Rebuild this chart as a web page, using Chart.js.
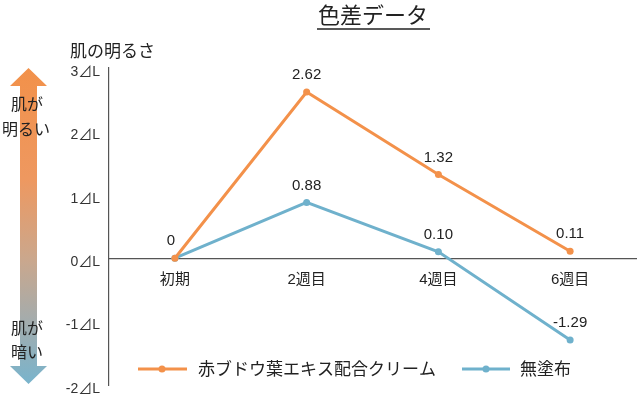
<!DOCTYPE html>
<html><head><meta charset="utf-8">
<script src="https://cdn.jsdelivr.net/npm/chart.js@4"></script>
<style>html,body{margin:0;padding:0;background:#fff}#wrap{width:640px;height:397px;position:relative}</style>
</head><body><div id="wrap"><canvas id="c" width="640" height="397"></canvas></div>
<script>
const categories = ['初期', '2週目', '4週目', '6週目'];
const creamValues = [0, 2.62, 1.32, 0.11];
const bareValues = [0, 0.88, 0.10, -1.29];
const seriesNames = ['赤ブドウ葉エキス配合クリーム', '無塗布'];
const yTicks = [-2, -1, 0, 1, 2, 3];
const titleText = '色差データ';
const yTitleText = '肌の明るさ';
const upperLabel = ['肌が', '明るい'];
const lowerLabel = ['肌が', '暗い'];

const ORANGE = '#F3914A';
const BLUE = '#6FB1CC';
const FONT = '"Noto Sans CJK JP", "Noto Sans", sans-serif';
const NUMFONT = '"Liberation Sans", "Noto Sans CJK JP", sans-serif';

const decor = {
  id: 'decor',
  afterDraw(chart) {
    const ctx = chart.ctx;
    const y = chart.scales.y;
    ctx.save();
    // title
    ctx.fillStyle = '#222';
    ctx.font = '22px ' + FONT;
    ctx.textAlign = 'center';
    ctx.textBaseline = 'middle';
    ctx.fillText(titleText, 373, 15);
    ctx.strokeStyle = '#222';
    ctx.lineWidth = 1.5;
    ctx.beginPath(); ctx.moveTo(317, 29); ctx.lineTo(430, 29); ctx.stroke();
    // y title
    ctx.font = '17px ' + FONT;
    ctx.textAlign = 'left';
    ctx.fillText(yTitleText, 70, 51);
    // arrow
    const top = y.getPixelForValue(3), bot = y.getPixelForValue(-2);
    const g = ctx.createLinearGradient(0, top, 0, bot);
    g.addColorStop(0, '#F2914A');
    g.addColorStop(0.35, '#EE9860');
    g.addColorStop(0.6, '#CBA78C');
    g.addColorStop(0.8, '#A3ACAD');
    g.addColorStop(1, '#78B4CD');
    ctx.fillStyle = g;
    ctx.beginPath();
    ctx.moveTo(28.5, top);
    ctx.lineTo(47, top + 18);
    ctx.lineTo(37, top + 18);
    ctx.lineTo(37, bot - 19);
    ctx.lineTo(47, bot - 19);
    ctx.lineTo(28.5, bot - 1);
    ctx.lineTo(10, bot - 19);
    ctx.lineTo(20, bot - 19);
    ctx.lineTo(20, top + 18);
    ctx.lineTo(10, top + 18);
    ctx.closePath();
    ctx.fill();
    ctx.fillStyle = '#222';
    ctx.font = '16px ' + FONT;
    ctx.textAlign = 'center';
    ctx.fillText(upperLabel[0], 27, 104);
    ctx.fillText(upperLabel[1], 26, 129);
    ctx.fillText(lowerLabel[0], 27, 328);
    ctx.fillText(lowerLabel[1], 27, 352);
    // data labels
    ctx.font = '15px ' + NUMFONT;
    chart.data.datasets.forEach((ds, di) => {
      const meta = chart.getDatasetMeta(di);
      meta.data.forEach((pt, i) => {
        if (di === 1 && i === 0) return;
        const v = ds.data[i];
        const txt = i === 0 ? String(v) : v.toFixed(2);
        ctx.fillText(txt, pt.x - (i === 0 ? 4 : 0), pt.y - 17);
      });
    });
    // legend
    const items = [[138, 187, 162, 198, ORANGE, seriesNames[0]], [462, 510, 486, 520, BLUE, seriesNames[1]]];
    items.forEach(([x1, x2, cx, tx, col, name]) => {
      ctx.strokeStyle = col; ctx.lineWidth = 3;
      ctx.beginPath(); ctx.moveTo(x1, 369); ctx.lineTo(x2, 369); ctx.stroke();
      ctx.fillStyle = col;
      ctx.beginPath(); ctx.arc(cx, 369, 3.5, 0, Math.PI * 2); ctx.fill();
      ctx.fillStyle = '#222';
      ctx.font = '17px ' + FONT;
      ctx.textAlign = 'left';
      ctx.fillText(name, tx, 369);
    });
    ctx.restore();
  }
};

new Chart(document.getElementById('c'), {
  type: 'line',
  data: {
    labels: categories,
    datasets: [
      { label: seriesNames[0], data: creamValues, borderColor: ORANGE, backgroundColor: ORANGE, borderWidth: 3, pointRadius: 3.5, pointBorderWidth: 0, tension: 0 },
      { label: seriesNames[1], data: bareValues, borderColor: BLUE, backgroundColor: BLUE, borderWidth: 3, pointRadius: 3.5, pointBorderWidth: 0, tension: 0 }
    ]
  },
  options: {
    responsive: false,
    animation: false,
    layout: { padding: { left: 0, top: 68, right: 3, bottom: 12 } },
    plugins: { legend: { display: false }, title: { display: false }, tooltip: { enabled: false } },
    scales: {
      x: {
        type: 'category',
        offset: true,
        position: { y: 0 },
        afterFit(scale) { scale.paddingLeft = 0; scale.paddingRight = 0; },
        grid: { display: false, drawTicks: false },
        border: { display: true, color: '#555', width: 1.2 },
        ticks: { color: '#222', font: { family: NUMFONT, size: 15 }, padding: 13, autoSkip: false, maxRotation: 0 }
      },
      y: {
        min: -2, max: 3,
        afterBuildTicks(scale) { scale.ticks = yTicks.map(v => ({ value: v })); },
        afterFit(scale) { scale.width = 109; scale.paddingTop = 0; scale.paddingBottom = 0; },
        grid: { display: false, drawTicks: false },
        border: { display: true, color: '#555', width: 1.2 },
        ticks: { color: '#333', font: { family: NUMFONT, size: 14 }, padding: 9, labelOffset: 4, callback: v => v + '⊿L' }
      }
    }
  },
  plugins: [decor]
});
</script></body></html>
